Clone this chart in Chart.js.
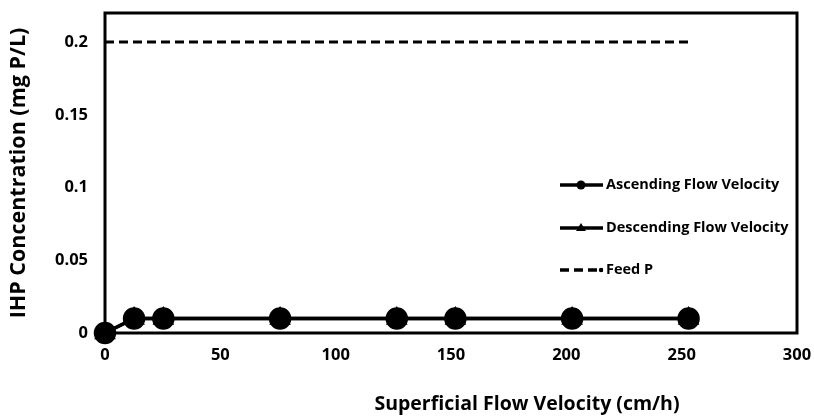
<!DOCTYPE html>
<html lang="en">
<head>
    <meta charset="UTF-8">
    <title>IHP Concentration</title>
    <script src="https://cdn.jsdelivr.net/npm/chart.js"></script>
    <style>
        body { margin: 0; background: #fff; }
        #wrap { width: 814px; height: 417px; }
    </style>
</head>
<body>
    <div id="wrap"><canvas id="ihpChart" width="814" height="417"></canvas></div>
    <script>
        const velocity = [0, 12.6, 25.3, 75.9, 126.5, 151.9, 202.5, 253];
        const ascending = [0, 0.01, 0.01, 0.01, 0.01, 0.01, 0.01, 0.01];
        const descending = [0, 0.01, 0.01, 0.01, 0.01, 0.01, 0.01, 0.01];
        const feedX = [0, 253];
        const feedP = [0.2, 0.2];
        const yTicks = [0, 0.05, 0.1, 0.15, 0.2];

        const FONT = "'Open Sans', 'Liberation Sans', sans-serif";

        function pts(xs, ys) {
            return xs.map((x, i) => ({ x: x, y: ys[i] }));
        }

        // frame, legend inside the plot and the x title
        const extras = {
            id: 'extras',
            afterDraw(chart) {
                const ctx = chart.ctx;
                const a = chart.chartArea;
                ctx.save();
                ctx.strokeStyle = '#000';
                ctx.lineWidth = 3;
                ctx.strokeRect(a.left, a.top, a.right - a.left, a.bottom - a.top);

                const rows = [185, 228, 270];
                chart.data.datasets.forEach((ds, i) => {
                    const y = rows[i];
                    ctx.beginPath();
                    ctx.lineWidth = 3.5;
                    ctx.setLineDash(ds.borderDash || []);
                    ctx.moveTo(560, y);
                    ctx.lineTo(603, y);
                    ctx.stroke();
                    ctx.setLineDash([]);
                    ctx.fillStyle = '#000';
                    if (ds.pointStyle === 'circle') {
                        ctx.beginPath();
                        ctx.arc(581, y, 4.5, 0, Math.PI * 2);
                        ctx.fill();
                    } else if (ds.pointStyle === 'triangle') {
                        ctx.beginPath();
                        ctx.moveTo(581, y - 5);
                        ctx.lineTo(586, y + 3);
                        ctx.lineTo(576, y + 3);
                        ctx.closePath();
                        ctx.fill();
                    } else {
                        ctx.beginPath();
                        ctx.arc(601, y, 2.2, 0, Math.PI * 2);
                        ctx.fill();
                    }
                    ctx.font = "bold 14.5px " + FONT;
                    ctx.textBaseline = 'middle';
                    ctx.textAlign = 'left';
                    ctx.fillText(ds.label, 606, y);
                });

                ctx.font = "bold 19.5px " + FONT;
                ctx.textAlign = 'center';
                ctx.textBaseline = 'middle';
                ctx.fillText('Superficial Flow Velocity (cm/h)', 527, 404);
                ctx.restore();
            }
        };

        const ctx = document.getElementById('ihpChart').getContext('2d');
        new Chart(ctx, {
            type: 'scatter',
            data: {
                datasets: [
                    {
                        label: 'Ascending Flow Velocity',
                        data: pts(velocity, ascending),
                        showLine: true,
                        borderColor: '#000',
                        backgroundColor: '#000',
                        borderWidth: 3.5,
                        pointStyle: 'circle',
                        pointRadius: 9.5,
                        clip: false,
                        order: 1
                    },
                    {
                        label: 'Descending Flow Velocity',
                        data: pts(velocity, descending),
                        showLine: true,
                        borderColor: '#000',
                        backgroundColor: '#000',
                        borderWidth: 3.5,
                        pointStyle: 'triangle',
                        pointRadius: 9,
                        clip: false,
                        order: 2
                    },
                    {
                        label: 'Feed P',
                        data: pts(feedX, feedP),
                        showLine: true,
                        borderColor: '#000',
                        borderWidth: 3,
                        borderDash: [9, 5],
                        pointRadius: 0,
                        pointStyle: false,
                        order: 3
                    }
                ]
            },
            options: {
                responsive: false,
                animation: false,
                layout: { padding: { top: 10, right: 17, left: 0, bottom: 0 } },
                plugins: {
                    legend: { display: false },
                    tooltip: { enabled: false }
                },
                scales: {
                    x: {
                        type: 'linear',
                        min: 0,
                        max: 300,
                        grid: { display: false, drawTicks: false },
                        border: { display: false },
                        ticks: {
                            stepSize: 50,
                            padding: 12,
                            color: '#000',
                            font: { family: FONT, size: 16.5, weight: 'bold' }
                        },
                        afterFit(scale) {
                            scale.height = 84;
                            scale.paddingLeft = 0;
                            scale.paddingRight = 0;
                        }
                    },
                    y: {
                        min: 0,
                        max: 0.22,
                        grid: { display: false, drawTicks: false },
                        border: { display: false },
                        afterBuildTicks(scale) {
                            scale.ticks = yTicks.map(v => ({ value: v }));
                        },
                        ticks: {
                            padding: 17,
                            color: '#000',
                            font: { family: FONT, size: 16.5, weight: 'bold' },
                            callback: v => String(v)
                        },
                        title: {
                            display: true,
                            text: 'IHP Concentration (mg P/L)',
                            color: '#000',
                            font: { family: FONT, size: 21.5, weight: 'bold' },
                            padding: { top: 6, bottom: 0 }
                        },
                        afterFit(scale) {
                            scale.width = 105;
                            scale.paddingTop = 0;
                            scale.paddingBottom = 0;
                        }
                    }
                }
            },
            plugins: [extras]
        });
    </script>
</body>
</html>
